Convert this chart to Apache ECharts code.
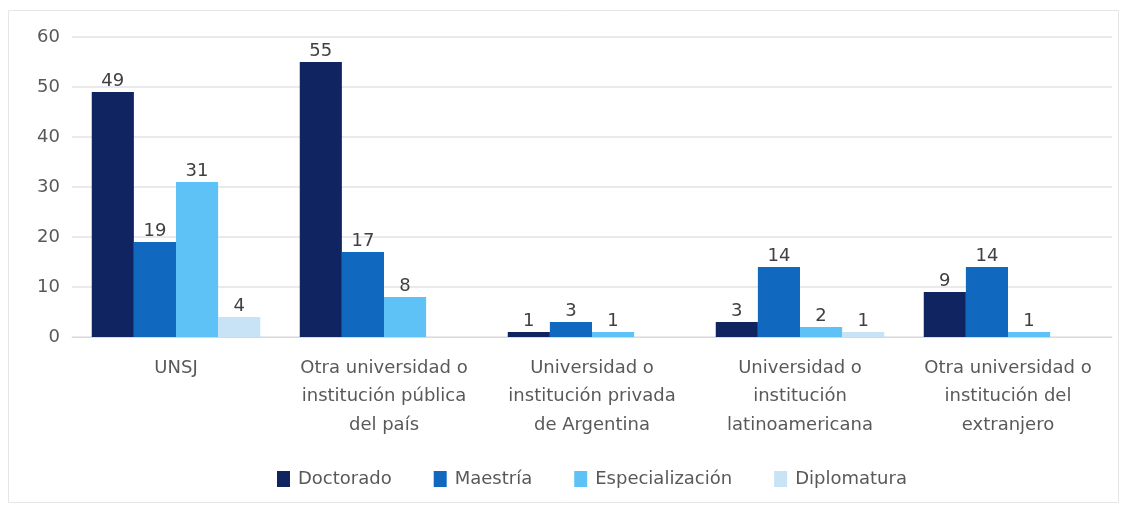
<!DOCTYPE html>
<html>
<head>
<meta charset="utf-8">
<script src="https://cdn.jsdelivr.net/npm/echarts@6/dist/echarts.min.js"></script>
<style>
  html,body{margin:0;padding:0;background:#fff;}
  #chart{width:1128px;height:512px;}
</style>
</head>
<body>
<div id="chart"></div>
<script>
/* Posgrados por institución donde se obtuvieron */
const CATEGORIAS = [
  "UNSJ",
  "Otra universidad o\ninstitución pública\ndel país",
  "Universidad o\ninstitución privada\nde Argentina",
  "Universidad o\ninstitución\nlatinoamericana",
  "Otra universidad o\ninstitución del\nextranjero"
];
const DOCTORADO = [49, 55, 1, 3, 9];
const MAESTRIA = [19, 17, 3, 14, 14];
const ESPECIALIZACION = [31, 8, 1, 2, 1];
const DIPLOMATURA = [4, 0, 0, 1, 0];
const Y_TICKS = [0, 10, 20, 30, 40, 50, 60];

const COLORES = ["#0f2460", "#1068bf", "#5ec2f7", "#c8e3f5"];
const FONT = "'DejaVu Sans', sans-serif";

const chart = echarts.init(document.getElementById("chart"));
const serie = (name, data, i) => ({
  name, type: "bar", data,
  itemStyle: {color: COLORES[i]},
  barGap: "0%", barCategoryGap: "19%",
  label: {show: true, position: "top", distance: 2, color: "#404040", fontSize: 18, fontFamily: FONT,
    formatter: p => p.value ? String(p.value) : ""}
});

chart.setOption({
  animation: false,
  textStyle: {fontFamily: FONT},
  graphic: [{type: "rect", shape: {x: 8.5, y: 10.5, width: 1110, height: 492},
    style: {fill: "none", stroke: "#e6e6e6", lineWidth: 1}}],
  grid: {left: 72, right: 16, top: 37, bottom: 175},
  legend: {
    bottom: 19, left: 272, itemWidth: 13, itemHeight: 16, itemGap: 42,
    icon: "rect",
    textStyle: {color: "#595959", fontSize: 18, fontFamily: FONT, padding: [0, 0, 0, 3]},
    data: ["Doctorado", "Maestría", "Especialización", "Diplomatura"]
  },
  xAxis: {
    type: "category", data: CATEGORIAS,
    axisTick: {show: false},
    axisLine: {lineStyle: {color: "#d9d9d9"}},
    axisLabel: {color: "#595959", fontSize: 18, lineHeight: 28.5, margin: 17, interval: 0, fontFamily: FONT}
  },
  yAxis: {
    type: "value", min: Y_TICKS[0], max: Y_TICKS[Y_TICKS.length-1], interval: 10,
    axisLine: {show: false}, axisTick: {show: false},
    axisLabel: {color: "#595959", fontSize: 18, margin: 12, fontFamily: FONT},
    splitLine: {lineStyle: {color: "#e3e3e3", width: 1.5}}
  },
  series: [
    serie("Doctorado", DOCTORADO, 0),
    serie("Maestría", MAESTRIA, 1),
    serie("Especialización", ESPECIALIZACION, 2),
    serie("Diplomatura", DIPLOMATURA, 3)
  ]
});
</script>
</body>
</html>
